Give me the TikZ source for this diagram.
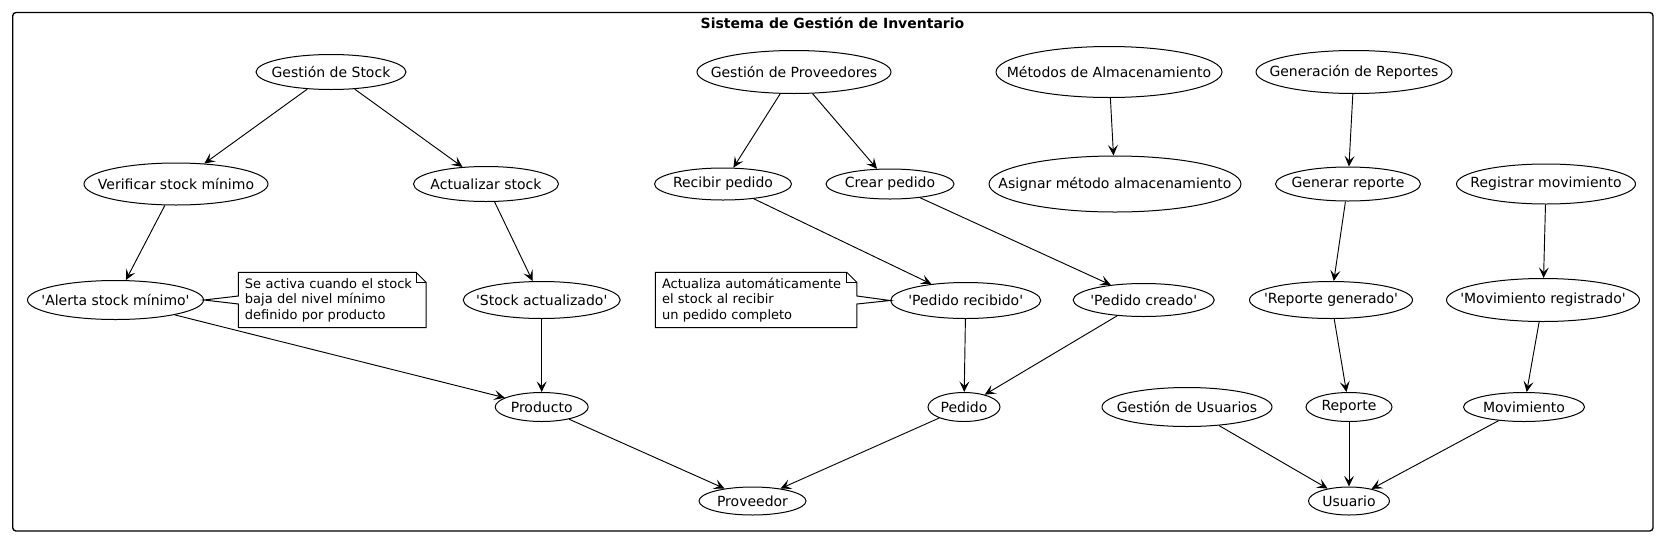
\documentclass[tikz,border=0pt]{standalone}
\usepackage{fontspec}
\setmainfont{DejaVu Sans}
\usetikzlibrary{shapes.geometric, arrows.meta}

\newcommand{\cita}[1]{\textquotesingle#1\textquotesingle}

\tikzset{
	caso/.style 2 args={ellipse, draw, line width=0.75pt, inner sep=-40pt,
		minimum width=#1*0.75pt, minimum height=#2*0.75pt,
		font=\fontsize{10.5}{12}\selectfont},
	nota/.style 2 args={rectangle, inner xsep=4.7pt, inner ysep=0pt,
		text width=#1, minimum height=#2, align=left,
		font=\fontsize{9.75}{11.6}\selectfont},
	flecha/.style={-{Stealth[length=8pt, width=7.5pt, inset=3.5pt]},
		line width=0.7pt},
	borde/.style={line width=0.75pt}
}

\begin{document}
\begin{tikzpicture}[x=0.75pt, y=-0.75pt]
	\useasboundingbox (0,0) rectangle (1659,536);
	% Rahmen und Titel
	\draw[rounded corners=2.5pt, line width=1pt] (12.7,12.5) rectangle (1653,531);
	\node[font=\bfseries\fontsize{10.5}{12}\selectfont] (titulo) at (832.5,22.5)
		{Sistema de Gestión de Inventario};

	% Casos de uso, fila 1
	\node[caso={150}{35}] (gstock) at (331,72) {Gestión de Stock};
	\node[caso={194}{43}] (gprov) at (794,72) {Gestión de Proveedores};
	\node[caso={226}{51}] (galm) at (1109,72) {Métodos de Almacenamiento};
	\node[caso={196}{43}] (grep) at (1354,72) {Generación de Reportes};

	% fila 2
	\node[caso={184}{42}] (verif) at (176,184) {Verificar stock mínimo};
	\node[caso={145}{35}] (actu) at (486,184) {Actualizar stock};
	\node[caso={137}{32}] (recib) at (723,184) {Recibir pedido};
	\node[caso={128}{30}] (crear) at (890,184) {Crear pedido};
	\node[caso={252}{56}] (asign) at (1115,184) {Asignar método almacenamiento};
	\node[caso={145}{34}] (genrep) at (1348,184) {Generar reporte};
	\node[caso={179}{40}] (regmov) at (1546,184) {Registrar movimiento};

	% fila 3
	\node[caso={176}{39}] (alerta) at (115.5,300) {\cita{Alerta stock mínimo}};
	\node[caso={157}{37}] (stockact) at (541.7,300) {\cita{Stock actualizado}};
	\node[caso={150}{36}] (pedrec) at (965.7,300.5) {\cita{Pedido recibido}};
	\node[caso={141}{33}] (pedcre) at (1143.7,300) {\cita{Pedido creado}};
	\node[caso={163}{37}] (repgen) at (1331,300) {\cita{Reporte generado}};
	\node[caso={193}{43}] (movreg) at (1543,300) {\cita{Movimiento registrado}};

	% fila 4
	\node[caso={93}{29}] (producto) at (541.7,407) {Producto};
	\node[caso={72}{29}] (pedido) at (964,407) {Pedido};
	\node[caso={170}{39}] (gusu) at (1187,407) {Gestión de Usuarios};
	\node[caso={86}{29}] (reporte) at (1349,407) {Reporte};
	\node[caso={121}{29}] (movim) at (1524,407) {Movimiento};

	% fila 5
	\node[caso={107}{28}] (proveedor) at (752.5,501) {Proveedor};
	\node[caso={81}{28}] (usuario) at (1349,501) {Usuario};

	% Notas
	\node[nota={131pt}{41pt}] (nota1) at (332.3,300)
		{Se activa cuando el stock\\baja del nivel mínimo\\definido por producto};
	\draw[borde] ([yshift=3pt]nota1.west) -- (nota1.north west)
		-- ([xshift=-7.5pt]nota1.north east) -- ([yshift=-7.5pt]nota1.north east)
		-- (nota1.south east) -- (nota1.south west) -- ([yshift=-3pt]nota1.west)
		-- (alerta.east) -- cycle;
	\draw[borde] ([xshift=-7.5pt]nota1.north east) |- ([yshift=-7.5pt]nota1.north east);

	\node[nota={141.3pt}{41pt}] (nota2) at (756.2,300)
		{Actualiza automáticamente\\el stock al recibir\\un pedido completo};
	\draw[borde] (nota2.north west) -- ([xshift=-7.5pt]nota2.north east)
		-- ([yshift=-7.5pt]nota2.north east) -- ([yshift=3pt]nota2.east)
		-- (pedrec.west) -- ([yshift=-3pt]nota2.east) -- (nota2.south east)
		-- (nota2.south west) -- cycle;
	\draw[borde] ([xshift=-7.5pt]nota2.north east) |- ([yshift=-7.5pt]nota2.north east);

	% Relaciones
	\foreach \a/\b in {gstock/verif, gstock/actu, verif/alerta, actu/stockact,
		alerta/producto, stockact/producto, producto/proveedor,
		gprov/recib, gprov/crear, recib/pedrec, crear/pedcre,
		pedrec/pedido, pedcre/pedido, pedido/proveedor, galm/asign,
		grep/genrep, genrep/repgen, repgen/reporte, regmov/movreg,
		movreg/movim, gusu/usuario, reporte/usuario, movim/usuario}
		\draw[flecha] (\a) -- (\b);
\end{tikzpicture}
\end{document}
